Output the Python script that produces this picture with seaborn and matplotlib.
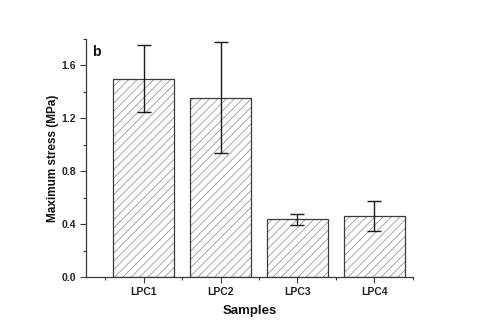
import numpy as np
import pandas as pd
import matplotlib
matplotlib.use("Agg")
import matplotlib.pyplot as plt
import seaborn as sns
from matplotlib.ticker import MultipleLocator, FixedLocator

samples = ["LPC1", "LPC2", "LPC3", "LPC4"]
stress = [1.50, 1.355, 0.437, 0.461]
stress_err = [0.25, 0.42, 0.043, 0.112]

df = pd.DataFrame({"Samples": samples, "Stress": stress})

sns.set_style("ticks")
plt.rcParams["font.family"] = ["Liberation Sans", "DejaVu Sans"]
plt.rcParams["hatch.linewidth"] = 0.6

fig = plt.figure(figsize=(4.8, 3.32), dpi=100)
ax = fig.add_axes([0.179, 0.165, 0.681, 0.718])

# hatched fill (hatch colour follows the edge colour), then dark outlines on top
sns.barplot(data=df, x="Samples", y="Stress", color="white", edgecolor="#9a9a9a",
            linewidth=0, width=0.8, errorbar=None, ax=ax)
for p in ax.patches:
    p.set_hatch("////")
sns.barplot(data=df, x="Samples", y="Stress", fill=False, edgecolor="#3a3a3a",
            linewidth=0.9, width=0.8, errorbar=None, ax=ax)

xs = [p.get_x() + p.get_width() / 2 for p in ax.patches[:len(samples)]]
ax.errorbar(xs, stress, yerr=stress_err, fmt="none", ecolor="#1a1a1a",
            elinewidth=1.0, capsize=5, capthick=1.0)

ax.set_xlim(-0.75, 3.5)
ax.set_ylim(0, 1.8)
ax.yaxis.set_major_locator(FixedLocator([0.0, 0.4, 0.8, 1.2, 1.6]))
ax.yaxis.set_minor_locator(MultipleLocator(0.2))
ax.xaxis.set_minor_locator(FixedLocator([-0.5, 0.5, 1.5, 2.5, 3.5]))
ax.yaxis.set_major_formatter(matplotlib.ticker.FormatStrFormatter("%.1f"))

for s in ["top", "right"]:
    ax.spines[s].set_visible(False)
for s in ["left", "bottom"]:
    ax.spines[s].set_color("#3a3a3a")
    ax.spines[s].set_linewidth(0.9)

ax.tick_params(axis="both", which="major", direction="out", length=4, width=0.8,
               color="#3a3a3a", labelsize=7.5, pad=3)
ax.tick_params(axis="both", which="minor", direction="out", length=2.5, width=0.8,
               color="#3a3a3a")
for lab in ax.get_xticklabels() + ax.get_yticklabels():
    lab.set_fontweight("bold")
    lab.set_color("#222222")

ax.set_xlabel("Samples", fontsize=9.5, fontweight="bold", color="#111111", labelpad=6)
ax.set_ylabel("Maximum stress (MPa)", fontsize=8.5, fontweight="bold", color="#111111", labelpad=2)
ax.text(0.02, 0.93, "b", transform=ax.transAxes, fontsize=10, fontweight="bold",
        color="#111111")

fig.savefig("out.png", dpi=100, facecolor="white")
